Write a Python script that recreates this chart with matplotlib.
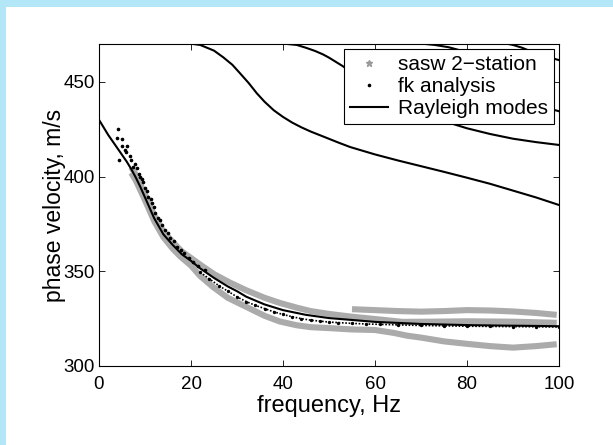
import matplotlib
matplotlib.use("Agg")
import matplotlib.pyplot as plt
from matplotlib.lines import Line2D
from matplotlib.patches import Rectangle

plt.rcParams['font.family'] = ['Liberation Sans', 'DejaVu Sans']

# ---------------- data ----------------
# Rayleigh modes (phase velocity m/s vs frequency Hz)
mode1_f = [0, 1, 2, 3, 4, 5, 6, 7, 8, 9, 10, 12, 14, 16, 18, 20, 22, 25, 28, 30, 32, 36, 40, 45, 50, 55, 60, 70, 80, 90, 100]
mode1_v = [430, 426, 422, 418.5, 415, 411.5, 408, 404, 399.5, 394.5, 389, 378, 369.5, 364, 359, 355.5, 351.5, 346.5, 342, 339.5, 336.6, 332.5, 329.5, 327, 325.3, 324.3, 323.3, 322.2, 321.6, 321.3, 321.0]

mode2_f = [20.5, 22, 25, 27, 29, 30.6, 32.5, 34.3, 36, 38, 40, 42, 44, 46, 48.7, 52, 54.6, 60, 65, 70, 75, 80, 85, 90, 95, 100]
mode2_v = [470, 469.5, 466.5, 463, 459, 454.7, 449.5, 444, 439.5, 435, 431.5, 428.5, 426, 423.8, 421.2, 418, 415.6, 411.7, 408.5, 405.5, 402.5, 399.4, 396.2, 392.6, 389, 385]

mode3_f = [41, 43, 45, 47, 48.7, 50, 53, 56, 60, 65, 70, 75.6, 80, 85, 90, 95, 100]
mode3_v = [470, 469.5, 468, 466.3, 464.5, 462.8, 458.3, 453, 446, 438.5, 433, 428.8, 425.5, 422.5, 420, 418.2, 416.7]

mode4_f = [71, 73, 76, 78, 80, 84, 88, 92, 96, 98.5, 100]
mode4_v = [470, 469.5, 468.3, 467, 465, 458, 449, 441, 437, 435.5, 434.5]

mode5_f = [89, 90, 92, 94, 97, 100]
mode5_v = [470, 469.5, 468, 466, 463.5, 461.5]

# SASW 2-station results (three branches)
sasw1_f = [7, 8, 10, 12, 14, 16, 18, 20, 22, 25, 28.5, 32, 36, 39.3, 43, 46, 50, 55, 60, 66, 72, 80, 90, 99.5]
sasw1_v = [405, 401, 390.5, 379.5, 371, 365.5, 360.5, 357, 353.5, 348.5, 344, 340, 336, 333.3, 330.8, 329, 327.5, 326, 324.8, 323.3, 323.4, 323.6, 323.4, 322.8]

sasw2_f = [7, 8, 10, 12, 14, 16, 17.6, 20, 22, 24.8, 28, 32.2, 36, 39.3, 43, 46, 50, 55, 60, 64, 67, 70, 75, 80, 85, 90, 95, 99.5]
sasw2_v = [402, 398, 387.5, 376.5, 368, 362, 358, 353, 347.5, 341.7, 336, 331, 326.5, 323.5, 321.5, 320.5, 320, 319.3, 319, 317.5, 316, 315, 313, 311.7, 310.5, 309.7, 310.5, 311.5]

sasw3_f = [55, 60, 65, 70, 75, 80, 85, 90, 95, 99.5]
sasw3_v = [330, 329.5, 329, 328.7, 329, 329.5, 329.3, 328.8, 328, 327]

# fk analysis picks
fk1_f = [3.9, 4.2, 4.3, 5.0, 5.0, 5.6, 5.9, 6.0, 6.8, 7.0, 7.4, 7.8, 8.2, 8.6, 8.9, 9.3, 9.6, 10.0, 10.4, 10.7,
         11.2, 11.5, 12.0, 12.2, 12.8, 13.3, 13.7, 14.3, 15.0, 15.5, 16.2, 17.0, 17.8, 18.5, 19.5, 20.5, 21.5, 23.0]
fk1_v = [420.4, 425, 409, 420, 416, 414, 413, 416, 411, 408.5, 405, 406.5, 404.5, 401.5, 400, 398.5, 397, 394, 392.5, 389,
         388, 386, 384, 381, 378, 377, 374.4, 371.8, 370, 367.5, 366, 363, 361, 359.5, 357, 355, 353, 350.5]
fk2_f = [22, 24, 26, 28, 30, 32, 34, 36, 38, 40, 42, 44, 46, 48, 50, 52, 55, 58, 61, 65, 70, 75, 80, 85, 90, 95, 100]
fk2_v = [349.5, 346, 342.5, 339.5, 336.5, 334, 332, 330.3, 328.6, 327.2, 326, 325, 324.2, 323.7, 323.2, 322.9, 322.5, 322.2, 322, 321.7, 321.4, 321.2, 321, 320.9, 320.8, 320.7, 320.6]

xticks = [0, 20, 40, 60, 80, 100]
yticks = [300, 350, 400, 450]

# ---------------- figure ----------------
W, H = 613, 445
fig = plt.figure(figsize=(W / 100, H / 100), dpi=100)
fig.patch.set_facecolor('white')
blue = '#b3e6f6'
fig.add_artist(Rectangle((0, 0), 6 / W, 1, transform=fig.transFigure, color=blue, lw=0, zorder=0))
fig.add_artist(Rectangle((0, 1 - 7 / H), 1, 7 / H, transform=fig.transFigure, color=blue, lw=0, zorder=0))

ax = fig.add_axes([99 / W, (H - 366) / H, 460 / W, 322 / H])

band_col = '#ababab'
for f, v in [(sasw1_f, sasw1_v), (sasw2_f, sasw2_v), (sasw3_f, sasw3_v)]:
    ax.plot(f, v, color=band_col, lw=4.4, solid_capstyle='butt', solid_joinstyle='round', zorder=2)

ax.plot(fk1_f, fk1_v, linestyle='none', marker='o', ms=1.6, color='black', zorder=3)
ax.plot(fk2_f, fk2_v, linestyle=(0, (1, 1)), lw=1.2, marker='o', ms=1.4, color='black', zorder=3)

for f, v in [(mode1_f, mode1_v), (mode2_f, mode2_v), (mode3_f, mode3_v), (mode4_f, mode4_v), (mode5_f, mode5_v)]:
    ax.plot(f, v, color='black', lw=1.5, zorder=4, solid_joinstyle='round')

ax.set_xlim(0, 100)
ax.set_ylim(300, 470)
ax.set_xticks(xticks)
ax.set_yticks(yticks)
ax.tick_params(direction='in', top=True, right=True, length=4.5, width=0.6, labelsize=13.5)
ax.tick_params(axis='x', pad=7.5)
ax.tick_params(axis='y', pad=3)
for s in ax.spines.values():
    s.set_linewidth(0.8)
    s.set_color('black')

ax.set_xlabel('frequency, Hz', fontsize=17)
ax.set_ylabel('phase velocity, m/s', fontsize=16.5)
ax.xaxis.set_label_coords(0.5, -0.09)
ax.yaxis.set_label_coords(-0.072, 0.5)

handles = [
    Line2D([], [], linestyle='none', marker='*', ms=5, color='#999999'),
    Line2D([], [], linestyle='none', marker='o', ms=1.6, color='black'),
    Line2D([], [], color='black', lw=1.5),
]
labels = ['sasw 2\u2212station', 'fk analysis', 'Rayleigh modes']
leg = ax.legend(handles, labels, loc='upper right', bbox_to_anchor=(0.989, 0.984),
                borderaxespad=0, fontsize=15, frameon=True, fancybox=False,
                edgecolor='black', framealpha=1, borderpad=0.28, labelspacing=0.14,
                handlelength=1.8, handletextpad=0.5)
leg.get_frame().set_linewidth(0.8)
leg.set_zorder(10)

fig.savefig('out.png', dpi=100)
